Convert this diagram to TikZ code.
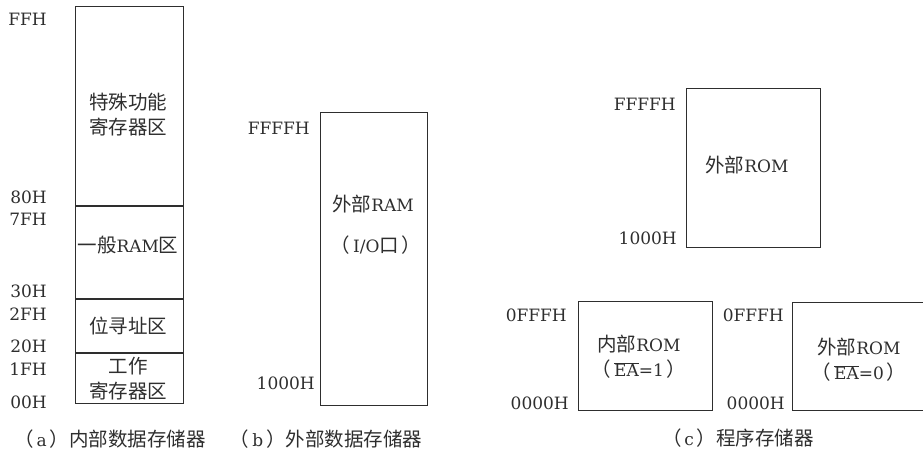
\documentclass[tikz,border=0pt]{standalone}
\usepackage{fontspec}
\setmainfont{DejaVu Serif}
\newfontfamily\cjk{Noto Sans CJK SC}
\newcommand\zh[1]{{\cjk\fontsize{19.5}{25}\selectfont #1}}
\newcommand\eabar{\ensuremath{\overline{\mbox{EA}}}}
\definecolor{ink}{HTML}{2E2E2E}
\begin{document}
\begin{tikzpicture}[x=1pt,y=-1pt,
  mem/.style={draw=ink, line width=1.3pt, rectangle, inner sep=0pt, anchor=north west},
  lbl/.style={anchor=east, inner sep=0pt, text=ink, font=\fontsize{17}{25}\selectfont},
  txt/.style={inner sep=0pt, align=center, text=ink, font=\fontsize{17}{25}\selectfont},
  div/.style={draw=ink, line width=1.3pt}]
\useasboundingbox (0,0) rectangle (923,451);
% ---------- (a) internal data memory ----------
\node[mem, minimum width=108pt, minimum height=397pt] (A) at (75,6) {};
\coordinate (a1) at (75,206); \coordinate (a2) at (75,299); \coordinate (a3) at (75,353);
\draw[div] (a1) -- (a1 -| A.east);
\draw[div] (a2) -- (a2 -| A.east);
\draw[div] (a3) -- (a3 -| A.east);
\node[lbl] (aFF) at (47,19) {FFH};
\node[lbl] (a80) at (47,197) {80H};
\node[lbl] (a7F) at (47,219) {7FH};
\node[lbl] (a30) at (47,291) {30H};
\node[lbl] (a2F) at (47,314) {2FH};
\node[lbl] (a20) at (47,346) {20H};
\node[lbl] (a1F) at (47,369) {1FH};
\node[lbl] (a00) at (47,402.5) {00H};
\node[txt] (tsf) at (128,115) {\zh{特殊功能}\\\zh{寄存器区}};
\node[txt] (ram) at (128,245) {\zh{一般}RAM\zh{区}};
\node[txt] (bit) at (128,326) {\zh{位寻址区}};
\node[txt] (wrk) at (128,379) {\zh{工作}\\\zh{寄存器区}};
\node[txt] (capa) at (110,439) {\zh{（}\,a\,\zh{）内部数据存储器}};
% ---------- (b) external data memory ----------
\node[mem, minimum width=107pt, minimum height=293pt] (B) at (320,112) {};
\node[lbl] (bFFFF) at (310,128.5) {FFFFH};
\node[lbl] (b1000) at (315,383.5) {1000H};
\node[txt] (bram) at (373,204) {\zh{外部}RAM};
\node[txt] (bio) at (376,245) {\zh{（}\,I/O\zh{口}\,\zh{）}};
\node[txt] (capb) at (326,439) {\zh{（}\,b\,\zh{）外部数据存储器}};
% ---------- (c) program memory ----------
\node[mem, minimum width=134pt, minimum height=159pt] (C1) at (686,88) {};
\node[lbl] (cFFFF) at (676,104) {FFFFH};
\node[lbl] (c1000) at (677,238) {1000H};
\node[txt] (crom) at (747,165) {\zh{外部}ROM};
\node[mem, minimum width=134pt, minimum height=109pt] (C2) at (578,301) {};
\node[lbl] (c2top) at (567,315) {0FFFH};
\node[lbl] (c2bot) at (569,403) {0000H};
\node[txt] (irom) at (639,357) {\zh{内部}ROM\\\zh{（}\,\eabar=1\,\zh{）}};
\node[mem, minimum width=150pt, minimum height=108pt] (C3) at (792,302) {};
\node[lbl] (c3top) at (784,315) {0FFFH};
\node[lbl] (c3bot) at (785,403) {0000H};
\node[txt] (erom) at (859,360) {\zh{外部}ROM\\\zh{（}\,\eabar=0\,\zh{）}};
\node[txt] (capc) at (738,438) {\zh{（}\,c\,\zh{）程序存储器}};
\end{tikzpicture}
\end{document}
